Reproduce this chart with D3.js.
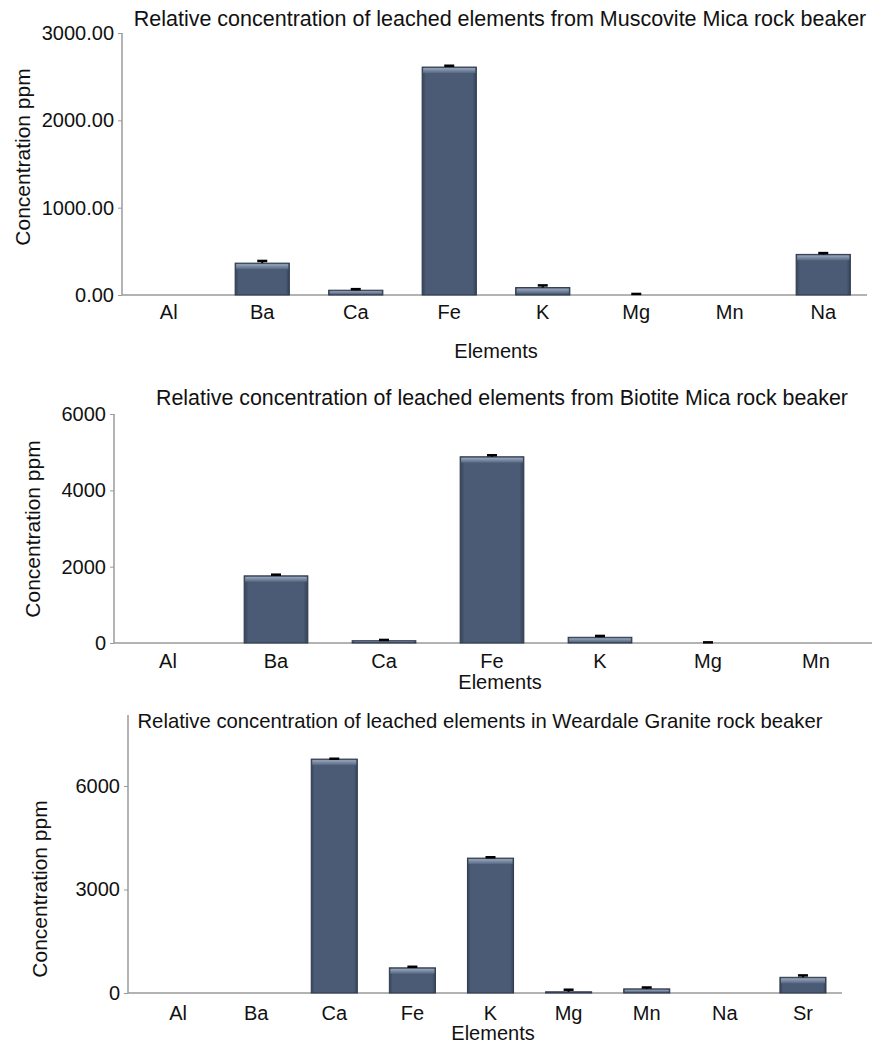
<!DOCTYPE html>
<html>
<head>
<meta charset="utf-8">
<script src="https://cdn.jsdelivr.net/npm/d3@7"></script>
<style>
  html, body { margin: 0; padding: 0; background: #ffffff; }
  svg { display: block; }
  text { font-family: "Liberation Sans", Arial, sans-serif; fill: #111; }
</style>
</head>
<body>
<svg id="chart" width="881" height="1045"></svg>
<script>
// ---------- DATA ----------
const muscoviteTitle = "Relative concentration of leached elements from Muscovite Mica rock beaker";
const muscoviteElements = ["Al", "Ba", "Ca", "Fe", "K", "Mg", "Mn", "Na"];
const muscoviteValues = [0, 365, 55, 2610, 85, 2, 0, 465];
const muscoviteErrors = [0, 25, 12, 15, 25, 10, 0, 15];
const muscoviteTicks = [0, 1000, 2000, 3000];

const biotiteTitle = "Relative concentration of leached elements from Biotite Mica rock beaker";
const biotiteElements = ["Al", "Ba", "Ca", "Fe", "K", "Mg", "Mn"];
const biotiteValues = [0, 1760, 60, 4880, 150, 2, 0];
const biotiteErrors = [0, 30, 20, 40, 35, 15, 0];
const biotiteTicks = [0, 2000, 4000, 6000];

const graniteTitle = "Relative concentration of leached elements in Weardale Granite rock beaker";
const graniteElements = ["Al", "Ba", "Ca", "Fe", "K", "Mg", "Mn", "Na", "Sr"];
const graniteValues = [0, 0, 6780, 730, 3910, 35, 120, 0, 455];
const graniteErrors = [0, 0, 10, 30, 25, 60, 40, 0, 55];
const graniteTicks = [0, 3000, 6000];

const xAxisTitle = "Elements";
const yAxisTitle = "Concentration ppm";

// ---------- DRAWING ----------
const svg = d3.select("#chart");
const defs = svg.append("defs");

const sideGrad = defs.append("linearGradient").attr("id", "barSide")
  .attr("x1", "0").attr("x2", "1").attr("y1", "0").attr("y2", "0");
[["0%", "#35425a"], ["7%", "#4b5b75"], ["93%", "#4b5b75"], ["100%", "#35425a"]]
  .forEach(([o, c]) => sideGrad.append("stop").attr("offset", o).attr("stop-color", c));

const topGrad = defs.append("linearGradient").attr("id", "barTop")
  .attr("x1", "0").attr("x2", "0").attr("y1", "0").attr("y2", "1");
[["0%", "#9aa8bd"], ["100%", "#566781"]]
  .forEach(([o, c]) => topGrad.append("stop").attr("offset", o).attr("stop-color", c));

function drawChart(cfg) {
  const g = svg.append("g");
  const x = d3.scaleBand().domain(cfg.categories).range(cfg.xRange)
    .paddingInner(cfg.padInner).paddingOuter(cfg.padInner / 2);
  const y = d3.scaleLinear().domain(cfg.yDomain).range(cfg.yRange);

  // y axis
  const yAxis = d3.axisLeft(y).tickValues(cfg.ticks).tickSize(4).tickPadding(4)
    .tickFormat(cfg.format);
  const ya = g.append("g").attr("transform", `translate(${cfg.axisX},0)`).call(yAxis);
  ya.select(".domain").remove();
  ya.selectAll(".tick line").attr("stroke", "#9a9a9a");
  ya.selectAll(".tick text").style("font-size", "20px").attr("fill", "#111")
    .style("font-family", '"Liberation Sans", Arial, sans-serif');
  g.append("line").attr("x1", cfg.axisX).attr("x2", cfg.axisX)
    .attr("y1", cfg.axisTop).attr("y2", y(0))
    .attr("stroke", "#9a9a9a").attr("stroke-width", 1.5);

  // x axis line
  g.append("line").attr("x1", cfg.axisX).attr("x2", cfg.xAxisEnd)
    .attr("y1", y(0)).attr("y2", y(0))
    .attr("stroke", "#9a9a9a").attr("stroke-width", 1.5);

  const data = cfg.categories.map((c, i) => ({ c, v: cfg.values[i], e: cfg.errors[i] }));

  // bars
  const bars = g.append("g");
  const barData = data.filter(d => y(0) - y(d.v) >= 1);
  bars.selectAll("rect.bar").data(barData).join("rect")
    .attr("class", "bar")
    .attr("x", d => x(d.c)).attr("width", x.bandwidth())
    .attr("y", d => y(d.v)).attr("height", d => y(0) - y(d.v))
    .attr("fill", "url(#barSide)").attr("stroke", "#2f3a4d").attr("stroke-width", 1);
  bars.selectAll("rect.bevel").data(barData).join("rect")
    .attr("class", "bevel")
    .attr("x", d => x(d.c) + 1).attr("width", x.bandwidth() - 2)
    .attr("y", d => y(d.v) + 1)
    .attr("height", d => Math.max(0, Math.min(5, y(0) - y(d.v) - 2)))
    .attr("fill", "url(#barTop)");

  // error bars
  const err = g.append("g").attr("stroke", "#000").attr("stroke-width", 2);
  const ed = data.filter(d => d.e > 0);
  err.selectAll("line.v").data(ed).join("line").attr("class", "v")
    .attr("x1", d => x(d.c) + x.bandwidth() / 2).attr("x2", d => x(d.c) + x.bandwidth() / 2)
    .attr("y1", d => y(d.v)).attr("y2", d => y(d.v + d.e));
  err.selectAll("line.cap").data(ed).join("line").attr("class", "cap")
    .attr("x1", d => x(d.c) + x.bandwidth() / 2 - 5)
    .attr("x2", d => x(d.c) + x.bandwidth() / 2 + 5)
    .attr("y1", d => y(d.v + d.e)).attr("y2", d => y(d.v + d.e))
    .attr("stroke-width", 2.5);

  // x labels
  g.selectAll("text.xl").data(cfg.categories).join("text").attr("class", "xl")
    .attr("x", d => x(d) + x.bandwidth() / 2).attr("y", cfg.labelY)
    .attr("text-anchor", "middle").style("font-size", "20px").text(d => d);

  // titles
  g.append("text").attr("x", cfg.titleX).attr("y", cfg.titleY).attr("text-anchor", "middle")
    .style("font-size", cfg.titleSize + "px").text(cfg.title);
  g.append("text").attr("x", cfg.xTitleX).attr("y", cfg.xTitleY).attr("text-anchor", "middle")
    .style("font-size", "20px").text(xAxisTitle);
  g.append("text").attr("transform", `translate(${cfg.yTitleX},${cfg.yTitleY}) rotate(-90)`)
    .attr("text-anchor", "middle").attr("dy", "0.35em")
    .style("font-size", "21px").text(yAxisTitle);
}

drawChart({
  title: muscoviteTitle, categories: muscoviteElements, values: muscoviteValues,
  errors: muscoviteErrors, ticks: muscoviteTicks, format: d3.format(".2f"),
  yDomain: [0, 3000], yRange: [295, 33], axisTop: 33, axisX: 122,
  xRange: [122, 870], xAxisEnd: 867, padInner: 0.42,
  labelY: 319, titleX: 500, titleY: 26, titleSize: 21.5, xTitleX: 496, xTitleY: 358,
  yTitleX: 23, yTitleY: 157
});

drawChart({
  title: biotiteTitle, categories: biotiteElements, values: biotiteValues,
  errors: biotiteErrors, ticks: biotiteTicks, format: d3.format("d"),
  yDomain: [0, 6000], yRange: [643, 414], axisTop: 414, axisX: 114,
  xRange: [114, 870], xAxisEnd: 872, padInner: 0.41,
  labelY: 668, titleX: 502, titleY: 405, titleSize: 21.4, xTitleX: 500, xTitleY: 689,
  yTitleX: 33, yTitleY: 529
});

drawChart({
  title: graniteTitle, categories: graniteElements, values: graniteValues,
  errors: graniteErrors, ticks: graniteTicks, format: d3.format("d"),
  yDomain: [0, 8000], yRange: [993, 717], axisTop: 715, axisX: 128,
  xRange: [139, 842], xAxisEnd: 842, padInner: 0.41,
  labelY: 1020, titleX: 480, titleY: 728, titleSize: 20.3, xTitleX: 493, xTitleY: 1040,
  yTitleX: 40, yTitleY: 889
});
</script>
</body>
</html>
